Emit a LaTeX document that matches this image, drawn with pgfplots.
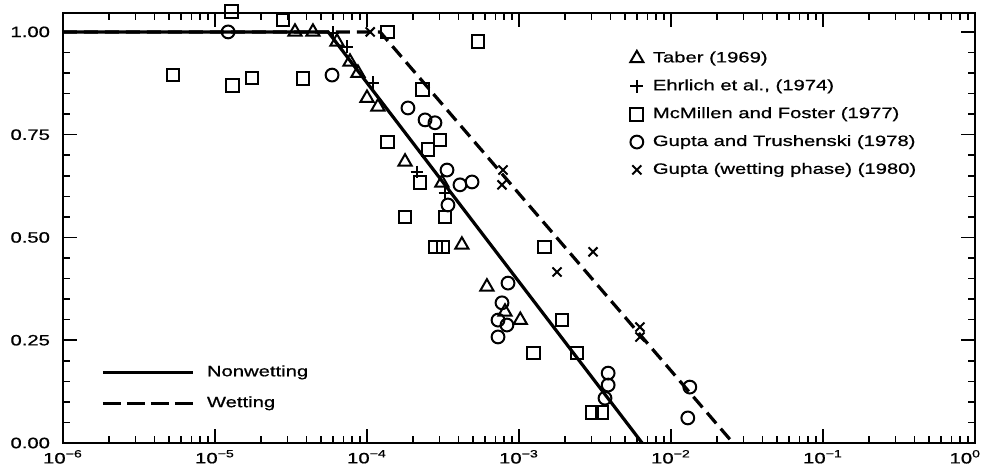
\documentclass[border=0pt]{standalone}
\usepackage{pgfplots}
\pgfplotsset{compat=1.18}
\usepackage{fontspec}
\setmainfont{Liberation Sans}[FakeStretch=1.35, FakeBold=0.8]
\newcommand{\lblfont}{\fontsize{7.5}{9}\selectfont}

\pgfplotstableread{
x y
3.36e-5 1.000
4.41e-5 1.000
6.35e-5 0.976
7.73e-5 0.927
8.72e-5 0.900
1.00e-4 0.839
1.18e-4 0.818
1.78e-4 0.684
3.11e-4 0.633
4.21e-4 0.482
6.15e-4 0.380
8.09e-4 0.319
1.02e-3 0.299
}\taber

\pgfplotstableread{
x y
5.97e-5 0.998
7.38e-5 0.964
1.09e-4 0.876
2.13e-4 0.659
3.26e-4 0.608
}\ehrlich

\pgfplotstableread{
x y
5.30e-6 0.895
1.31e-5 0.869
1.75e-5 0.888
3.79e-5 0.886
1.29e-5 1.049
2.80e-5 1.029
1.37e-4 1.000
5.37e-4 0.976
2.33e-4 0.859
1.37e-4 0.732
3.02e-4 0.737
2.52e-4 0.713
2.23e-4 0.633
1.78e-4 0.550
3.26e-4 0.550
2.84e-4 0.477
3.16e-4 0.477
1.48e-3 0.477
1.92e-3 0.299
1.24e-3 0.219
2.41e-3 0.219
3.02e-3 0.075
3.52e-3 0.075
}\mcmillen

\pgfplotstableread{
x y
1.22e-5 1.000
5.89e-5 0.895
1.86e-4 0.815
2.41e-4 0.786
2.80e-4 0.779
3.36e-4 0.664
4.09e-4 0.628
4.91e-4 0.635
3.41e-4 0.579
8.47e-4 0.389
7.73e-4 0.341
7.28e-4 0.299
8.33e-4 0.287
7.28e-4 0.258
3.86e-3 0.170
3.86e-3 0.141
3.68e-3 0.109
1.33e-2 0.136
1.29e-2 0.061
}\guptatr

\pgfplotstableread{
x y
1.05e-4 1.000
7.85e-4 0.664
7.73e-4 0.628
3.07e-3 0.465
1.78e-3 0.416
6.25e-3 0.282
6.25e-3 0.258
}\guptaw

\pgfplotstableread{
x y
1e-6 1
5.55e-5 1
6.46e-3 0
}\nonwet

\pgfplotstableread{
x y
1e-6 1
1.22e-4 1
2.56e-2 0
}\wet

\begin{document}
\begin{tikzpicture}
\begin{axis}[
  name=main,
  scale only axis, width=456pt, height=215pt,
  xmode=log, xmin=1e-6, xmax=1, ymin=0, ymax=1.046,
  clip=false,
  axis line style={line width=1pt},
  tick align=inside,
  major tick length=7pt, minor tick length=3.5pt,
  every tick/.style={black, line width=0.8pt},
  xtick={1e-6,1e-5,1e-4,1e-3,1e-2,1e-1,1},
  xticklabels={10\textsuperscript{−6},10\textsuperscript{−5},10\textsuperscript{−4},10\textsuperscript{−3},10\textsuperscript{−2},10\textsuperscript{−1},\makebox[6pt][r]{10\textsuperscript{0}}},
  ytick={0,0.25,0.5,0.75,1},
  minor y tick num=4,
  yticklabel style={xshift=-3pt, /pgf/number format/.cd, fixed, fixed zerofill, precision=2, assume math mode=true},
  tick label style={font=\lblfont},
  legend style={at={(0.615,0.930)}, anchor=north west, draw=none, fill=none,
    font=\lblfont, row sep=3pt},
  legend cell align=left,
  legend image code/.code={\draw[#1] plot coordinates {(0pt,0pt)}; \path[draw=none, fill=none] (0pt,0pt) -- (6pt,0pt);},
  every axis plot/.append style={black, mark options={solid, line width=1pt}},
]
\coordinate (BL) at (rel axis cs:0,0);
\coordinate (TR) at (rel axis cs:1,1);
\addplot[forget plot, line width=1.6pt] table {\nonwet};
\addplot[forget plot, line width=1.6pt, dash pattern=on 7pt off 3.5pt] table {\wet};
\addplot[only marks, mark=triangle, mark size=3.8pt] table {\taber};
\addlegendentry{Taber (1969)}
\addplot[only marks, mark=+, mark size=3.2pt] table {\ehrlich};
\addlegendentry{Ehrlich et al., (1974)}
\addplot[only marks, mark=square, mark size=3.2pt] table {\mcmillen};
\addlegendentry{McMillen and Foster (1977)}
\addplot[only marks, mark=o, mark size=3.2pt] table {\guptatr};
\addlegendentry{Gupta and Trushenski (1978)}
\addplot[only marks, mark=x, mark size=3.2pt] table {\guptaw};
\addlegendentry{Gupta (wetting phase) (1980)}
\end{axis}
\begin{axis}[
  scale only axis, width=456pt, height=215pt,
  hide axis, xmin=0, xmax=1, ymin=0, ymax=1,
  legend style={at={(0.035,0.2)}, anchor=north west, draw=none, fill=none,
    font=\lblfont, row sep=4.5pt},
  legend cell align=left,
  legend image code/.code={\draw[#1] (0pt,0pt) -- (45pt,0pt); \path[draw=none, fill=none] (0pt,0pt) -- (50pt,0pt);},
]
\addlegendimage{black, line width=1.6pt}
\addlegendentry{Nonwetting}
\addlegendimage{black, line width=1.6pt, dash pattern=on 9pt off 3pt}
\addlegendentry{Wetting}
\end{axis}
\pgfresetboundingbox
\path ([shift={(-31.5pt,-14.5pt)}]BL) rectangle ([shift={(4pt,6.5pt)}]TR);
\end{tikzpicture}
\end{document}
